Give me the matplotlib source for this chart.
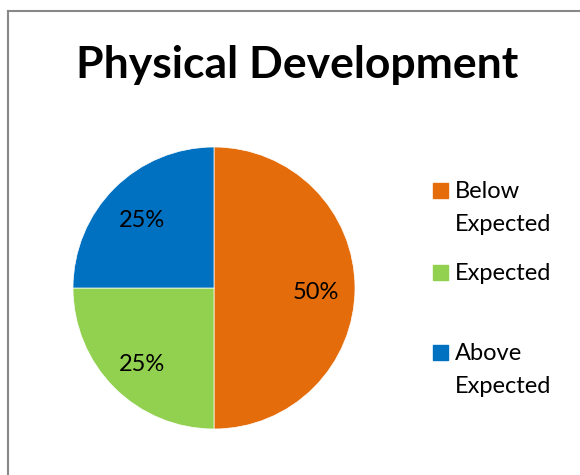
import matplotlib
matplotlib.use("Agg")
import matplotlib.pyplot as plt
from matplotlib.lines import Line2D
from matplotlib.patches import Rectangle

# chart data
categories = ["Below Expected", "Expected", "Above Expected"]
legend_labels = ["Below\nExpected", "Expected", "Above\nExpected"]
shares = [50, 25, 25]
colors = ["#E46C0A", "#92D050", "#0070C0"]

plt.rcParams['font.family'] = ['Lato', 'DejaVu Sans']

W, H = 580, 475
fig = plt.figure(figsize=(W / 100, H / 100), dpi=100)

# gray frame (runs off the right and bottom edges)
fig.add_artist(Line2D([8 / W, 1.0], [1 - 11 / H, 1 - 11 / H], color="#888888", lw=1.5))
fig.add_artist(Line2D([8 / W, 8 / W], [0.0, 1 - 11 / H], color="#888888", lw=1.5))

fig.text(297 / W, 1 - 78 / H, "Physical Development", ha="center", va="baseline",
         fontsize=32, fontweight="bold")

# pie
cx, cy, r = 214, 288, 141
ax = fig.add_axes([(cx - r) / W, 1 - (cy + r) / H, 2 * r / W, 2 * r / H])
wedges, texts, autotexts = ax.pie(shares, colors=colors, startangle=90, counterclock=False,
                                  autopct='%1.0f%%', pctdistance=0.72,
                                  wedgeprops=dict(linewidth=0.5, edgecolor="white"),
                                  textprops=dict(fontsize=17, color="black"))
# labels sit a touch lower in the original
for t in autotexts:
    x, y = t.get_position()
    t.set_position((x, y - 0.03))
ax.set_xlim(-1, 1)
ax.set_ylim(-1, 1)

# legend, drawn by hand to copy the spreadsheet layout
legend_top = [183, 265, 345]
for lab, col, y in zip(legend_labels, colors, legend_top):
    fig.add_artist(Rectangle((433 / W, 1 - (y + 15) / H), 15 / W, 15 / H, color=col,
                             transform=fig.transFigure))
    for i, line in enumerate(lab.split("\n")):
        fig.text(455 / W, 1 - (y + 15 + 33 * i) / H, line, ha="left", va="baseline",
                 fontsize=17)

fig.savefig("out.png", dpi=100)
